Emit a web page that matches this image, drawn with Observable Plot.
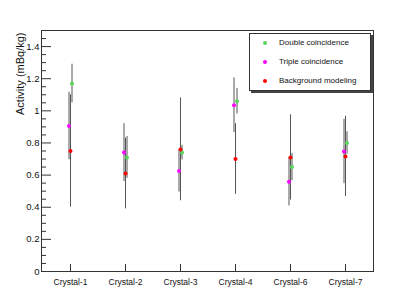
<!DOCTYPE html>
<html><head><meta charset="utf-8">
<script src="https://cdn.jsdelivr.net/npm/d3@7"></script>
<script src="https://cdn.jsdelivr.net/npm/@observablehq/plot@0.6"></script>
<style>
body{margin:0;background:#fff;font-family:"Liberation Sans",Arial,sans-serif;}
#wrap{position:relative;width:415px;height:302px;}
#legend{position:absolute;left:249px;top:33px;width:120px;height:56px;border:1px solid #333;background:#fff;box-shadow:2px 2px 0 #444;font-size:8px;color:#111;}
#legend .row{position:absolute;left:0;height:10px;line-height:10px;}
#legend .dot{position:absolute;left:13px;top:3px;width:4px;height:4px;border-radius:2px;}
#legend .lab{position:absolute;left:29px;top:0;white-space:nowrap;}
</style></head>
<body><div id="wrap"><div id="legend"></div></div>
<script>
const categories = ["Crystal-1","Crystal-2","Crystal-3","Crystal-4","Crystal-6","Crystal-7"];
const doubleVal = [1.17, 0.71, 0.74, 1.06, 0.65, 0.80];
const doubleErr = [0.12, 0.13, 0.045, 0.08, 0.085, 0.07];
const tripleVal = [0.905, 0.74, 0.625, 1.035, 0.558, 0.747];
const tripleErr = [0.21, 0.18, 0.13, 0.17, 0.15, 0.20];
const bkgVal = [0.75, 0.61, 0.76, 0.70, 0.71, 0.716];
const bkgErr = [0.35, 0.22, 0.32, 0.22, 0.265, 0.25];
const seriesNames = ["Double coincidence","Triple coincidence","Background modeling"];
const seriesColors = ["#5ad65a","#ff00ff","#ff0000"];
const majorTicks = [0,0.2,0.4,0.6,0.8,1.0,1.2,1.4];
const minorTicks = d3.range(0,1.5001,0.05).map(v=>+v.toFixed(2)).filter(v=>!majorTicks.some(m=>Math.abs(m-v)<1e-6));

const mk = (vals, errs) => categories.map((c,i)=>({c, v:vals[i], lo:vals[i]-errs[i], hi:vals[i]+errs[i]}));
const dDouble = mk(doubleVal, doubleErr);
const dTriple = mk(tripleVal, tripleErr);
const dBkg = mk(bkgVal, bkgErr);

const W=415,H=302, mL=41, mR=42, mT=30, mB=31;
const innerW = W-mL-mR;
const errStroke = "#555";
const plot = Plot.plot({
  width: W, height: H,
  marginLeft: mL, marginRight: mR, marginTop: mT, marginBottom: mB,
  style:{fontFamily:'"Liberation Sans",Arial,sans-serif', color:"#111", background:"#fff"},
  x:{type:"point", domain:categories, padding:0.5, label:null},
  y:{domain:[0,1.5], label:null},
  marks:[
    Plot.frame({stroke:"#333", strokeWidth:1}),
    Plot.tickY(majorTicks, {y:d=>d, stroke:"#333", insetRight: innerW-10}),
    Plot.tickY(minorTicks, {y:d=>d, stroke:"#333", insetRight: innerW-5}),
    Plot.tickX(categories, {x:d=>d, stroke:"#333", insetTop: (H-mT-mB)-7}),
    Plot.axisY({ticks: majorTicks, tickSize:0, tickPadding:2, fontSize:9.5, tickFormat:d=>d3.format("~g")(d)}),
    Plot.axisX({tickSize:0, tickPadding:7, fontSize:8.5}),
    Plot.ruleX(dBkg, {x:"c", y1:"lo", y2:"hi", stroke:errStroke, strokeWidth:1}),
    Plot.ruleX(dTriple, {x:"c", y1:"lo", y2:"hi", stroke:errStroke, strokeWidth:1, dx:-1.5}),
    Plot.ruleX(dDouble, {x:"c", y1:"lo", y2:"hi", stroke:errStroke, strokeWidth:1, dx:1.5}),
    Plot.dot(dDouble, {x:"c", y:"v", r:2, fill:seriesColors[0], dx:1.5}),
    Plot.dot(dTriple, {x:"c", y:"v", r:2, fill:seriesColors[1], dx:-1.5}),
    Plot.dot(dBkg, {x:"c", y:"v", r:2, fill:seriesColors[2]}),
    Plot.text(["Activity (mBq/kg)"], {frameAnchor:"top-left", rotate:-90, textAnchor:"end", dx:-25, dy:2, fontSize:11, fill:"#111"})
  ]
});
const wrap = document.getElementById("wrap");
wrap.insertBefore(plot, wrap.firstChild);
const leg = document.getElementById("legend");
const rowTops = [4, 23, 42];
seriesNames.forEach((n,i)=>{
  const r = document.createElement("div");
  r.className="row"; r.style.top = rowTops[i]+"px";
  r.innerHTML = `<span class="dot" style="background:${seriesColors[i]}"></span><span class="lab">${n}</span>`;
  leg.appendChild(r);
});
</script></body></html>
